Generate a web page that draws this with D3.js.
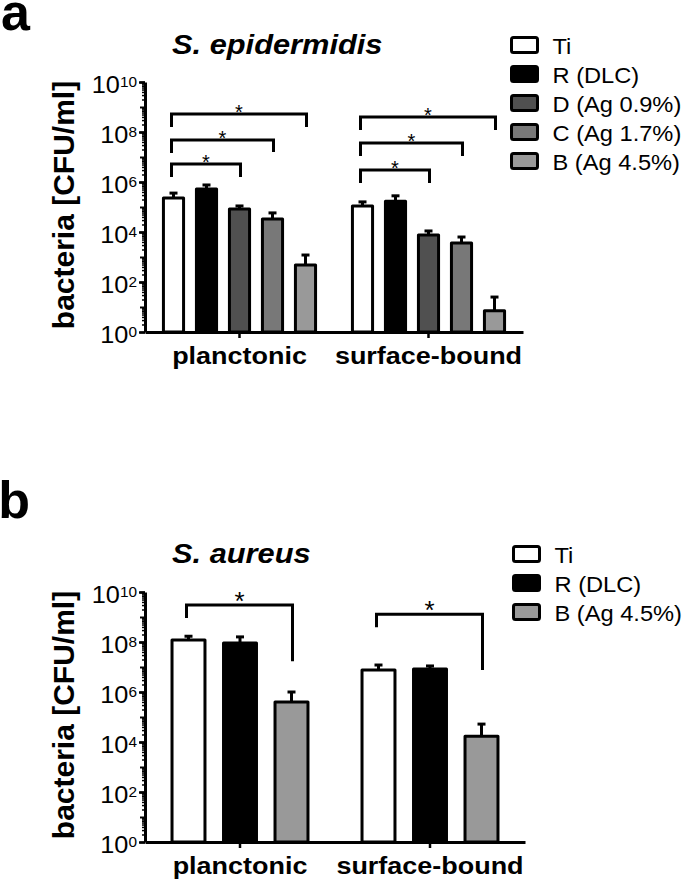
<!DOCTYPE html>
<html>
<head>
<meta charset="utf-8">
<script src="https://cdn.jsdelivr.net/npm/d3@7"></script>
<style>
body { margin: 0; background: #fff; }
text { font-family: "Liberation Sans", Arial, Helvetica, sans-serif; fill: #000; }
</style>
</head>
<body>
<div id="chart"></div>
<script>
// x axis groups
var groups = ["planctonic", "surface-bound"];

// panel a - S. epidermidis
var epiSeries = ["Ti", "R (DLC)", "D (Ag 0.9%)", "C (Ag 1.7%)", "B (Ag 4.5%)"];
var epiPlanctonic = [2.3e5, 5.2e5, 8.3e4, 3.3e4, 480];
var epiPlanctonicErr = [3.6e5, 7.6e5, 1.1e5, 5.8e4, 1.2e3];
var epiSurface = [1.1e5, 1.7e5, 7.6e3, 3.6e3, 7];
var epiSurfaceErr = [1.6e5, 2.8e5, 1.1e4, 6.3e3, 25];
// [group, from, to, bracket level, right leg end]
var epiBrackets = [
  ["planctonic", "Ti", "D (Ag 0.9%)", 5.2e6, 1.6e6],
  ["planctonic", "Ti", "C (Ag 1.7%)", 4.8e7, 1.6e7],
  ["planctonic", "Ti", "B (Ag 4.5%)", 5.2e8, 1.6e8],
  ["surface-bound", "Ti", "D (Ag 0.9%)", 3.0e6, 9.1e5],
  ["surface-bound", "Ti", "C (Ag 1.7%)", 3.6e7, 1.1e7],
  ["surface-bound", "Ti", "B (Ag 4.5%)", 4.0e8, 1.2e8]
];

// panel b - S. aureus
var aurSeries = ["Ti", "R (DLC)", "B (Ag 4.5%)"];
var aurPlanctonic = [1.2e8, 9.1e7, 4.0e5];
var aurPlanctonicErr = [1.7e8, 1.6e8, 1.0e6];
var aurSurface = [7.6e6, 8.3e6, 1.7e4];
var aurSurfaceErr = [1.2e7, 1.1e7, 5.2e4];
var aurBrackets = [
  ["planctonic", "Ti", "B (Ag 4.5%)", 3.0e9, 1.7e7],
  ["surface-bound", "Ti", "B (Ag 4.5%)", 1.3e9, 7.6e6]
];

// y axis ticks
var majorTicks = [1, 1e2, 1e4, 1e6, 1e8, 1e10];
var majorExp = ["0", "2", "4", "6", "8", "10"];

var fillOf = {
  "Ti": "#ffffff",
  "R (DLC)": "#000000",
  "D (Ag 0.9%)": "#505050",
  "C (Ag 1.7%)": "#787878",
  "B (Ag 4.5%)": "#999999"
};

var svgWidth = 685;
var svgHeight = 885;
var sx = 1.1; // the figure's lettering is a bit wide

var svg = d3.select("#chart")
  .append("svg")
  .attr("width", svgWidth)
  .attr("height", svgHeight);

function drawPanel(p) {
  var g = svg.append("g");

  var x0 = d3.scaleBand().domain(groups).range(p.xRange);
  var x1 = d3.scaleBand().domain(p.series)
    .range([-p.inner / 2, p.inner / 2])
    .paddingInner(p.pad).paddingOuter(p.pad / 2);
  var y = d3.scaleLog().domain([1, 1e10]).range(p.yRange);

  var cx = function(grp, s) { return x0(grp) + x0.bandwidth() / 2 + x1(s) + x1.bandwidth() / 2; };

  // panel letter and title
  g.append("text")
    .attr("transform", `translate(30, ${p.letterY})`)
    .attr("text-anchor", "end")
    .attr("font-size", "52px")
    .attr("font-weight", "bold")
    .text(p.letter);

  g.append("text")
    .attr("transform", `translate(172, ${p.titleY}) scale(${sx},1)`)
    .attr("font-size", "28px")
    .attr("font-weight", "bold")
    .attr("font-style", "italic")
    .text(p.title);

  // rows of bars
  var rows = [];
  groups.forEach(function(grp, gi) {
    var vals = gi == 0 ? p.planct : p.surf;
    var errs = gi == 0 ? p.planctErr : p.surfErr;
    p.series.forEach(function(s, i) {
      rows.push({ group: grp, series: s, value: vals[i], err: errs[i] });
    });
  });

  // error bars (upper only)
  var eb = g.append("g").attr("stroke", "#000").attr("stroke-width", 3).attr("fill", "none");
  rows.forEach(function(d) {
    var c = cx(d.group, d.series);
    eb.append("line").attr("x1", c).attr("x2", c).attr("y1", y(d.value)).attr("y2", y(d.err));
    eb.append("line").attr("x1", c - 4).attr("x2", c + 4).attr("y1", y(d.err)).attr("y2", y(d.err));
  });

  g.selectAll("rect.bar")
    .data(rows)
    .enter()
    .append("rect")
    .attr("class", "bar")
    .attr("x", d => cx(d.group, d.series) - x1.bandwidth() / 2)
    .attr("y", d => y(d.value))
    .attr("width", x1.bandwidth())
    .attr("height", d => y(1) - y(d.value))
    .attr("fill", d => fillOf[d.series])
    .attr("stroke", "#000")
    .attr("stroke-width", 3)
    .attr("stroke-linejoin", "round");

  // minor ticks
  var minor = [];
  for (var e = 0; e < 10; e++) {
    for (var k = 2; k <= 9; k++) minor.push(k * Math.pow(10, e));
  }
  var minorAxis = g.append("g")
    .attr("transform", `translate(${p.xRange[0]}, 0)`)
    .call(d3.axisLeft(y).tickValues(minor).tickSize(3).tickFormat(""));
  minorAxis.select(".domain").remove();
  minorAxis.selectAll("line").attr("stroke-width", 1.5);

  var decades = d3.range(0, 11).map(e => Math.pow(10, e));
  var midAxis = g.append("g")
    .attr("transform", `translate(${p.xRange[0]}, 0)`)
    .call(d3.axisLeft(y).tickValues(decades).tickSize(5).tickFormat(""));
  midAxis.select(".domain").remove();
  midAxis.selectAll("line").attr("stroke-width", 2);

  var leftAxis = g.append("g")
    .attr("transform", `translate(${p.xRange[0]}, 0)`)
    .call(d3.axisLeft(y).tickValues(majorTicks).tickSize(6).tickSizeOuter(0).tickFormat(""));
  leftAxis.select(".domain").attr("stroke-width", 3);
  leftAxis.selectAll("line").attr("stroke-width", 2.5);
  leftAxis.selectAll(".tick text").remove();
  leftAxis.selectAll(".tick").each(function(d, i) {
    var t = d3.select(this).append("text")
      .attr("transform", `translate(-8, 10.7) scale(${sx},1)`)
      .attr("text-anchor", "end")
      .attr("font-size", "23px")
      .attr("fill", "#000");
    t.append("tspan").text("10");
    t.append("tspan").attr("dy", -6.5).attr("font-size", "14px").text(majorExp[i]);
  });

  // x axis
  var bottomAxis = g.append("g")
    .attr("transform", `translate(0, ${y(1)})`)
    .call(d3.axisBottom(x0).tickSize(6).tickSizeOuter(0));
  bottomAxis.select(".domain").attr("stroke-width", 3);
  bottomAxis.selectAll("line").attr("stroke-width", 2.5);
  bottomAxis.selectAll(".tick text")
    .attr("y", 0).attr("dy", 0)
    .attr("transform", `translate(0, 32) scale(${sx},1)`)
    .attr("font-size", "24.5px")
    .attr("font-weight", "bold")
    .attr("font-family", "'Liberation Sans', Arial, sans-serif")
    .attr("fill", "#000");

  // y label
  var yMid = (p.yRange[0] + p.yRange[1]) / 2 - 2;
  g.append("text")
    .attr("transform", `translate(74, ${yMid}) rotate(-90)`)
    .attr("text-anchor", "middle")
    .attr("font-size", "30px")
    .attr("font-weight", "bold")
    .text("bacteria [CFU/ml]");

  // significance brackets
  var br = g.append("g");
  p.brackets.forEach(function(b) {
    var xa = cx(b[0], b[1]) - 2;
    var xb = cx(b[0], b[2]) + 1;
    var yl = y(b[3]);
    br.append("path")
      .attr("d", `M${xa},${yl + 13}V${yl}H${xb}V${y(b[4])}`)
      .attr("fill", "none")
      .attr("stroke", "#000")
      .attr("stroke-width", 3);
    br.append("text")
      .attr("x", (xa + xb) / 2)
      .attr("y", yl + 5)
      .attr("text-anchor", "middle")
      .attr("font-size", p.starSize + "px")
      .text("*");
  });

  // legend
  var leg = g.append("g");
  p.series.forEach(function(s, i) {
    leg.append("rect")
      .attr("x", p.legendX)
      .attr("y", p.legendY + i * 29)
      .attr("width", 26)
      .attr("height", 15)
      .attr("rx", 2)
      .attr("fill", fillOf[s])
      .attr("stroke", "#000")
      .attr("stroke-width", 3);
    leg.append("text")
      .attr("transform", `translate(${p.legendX + 41}, ${p.legendY + i * 29 + 16}) scale(${sx},1)`)
      .attr("font-size", "21.5px")
      .text(s);
  });
}

drawPanel({
  letter: "a", letterY: 30,
  title: "S. epidermidis", titleY: 54,
  series: epiSeries,
  planct: epiPlanctonic, planctErr: epiPlanctonicErr,
  surf: epiSurface, surfErr: epiSurfaceErr,
  brackets: epiBrackets,
  xRange: [145, 523], yRange: [332, 82],
  inner: 165, pad: 0.39,
  starSize: 20,
  legendX: 511.5, legendY: 37.5
});

drawPanel({
  letter: "b", letterY: 518,
  title: "S. aureus", titleY: 563,
  series: aurSeries,
  planct: aurPlanctonic, planctErr: aurPlanctonicErr,
  surf: aurSurface, surfErr: aurSurfaceErr,
  brackets: aurBrackets,
  xRange: [145, 525], yRange: [842, 592],
  inner: 154.5, pad: 0.36,
  starSize: 26,
  legendX: 513.5, legendY: 546.5
});
</script>
</body>
</html>
